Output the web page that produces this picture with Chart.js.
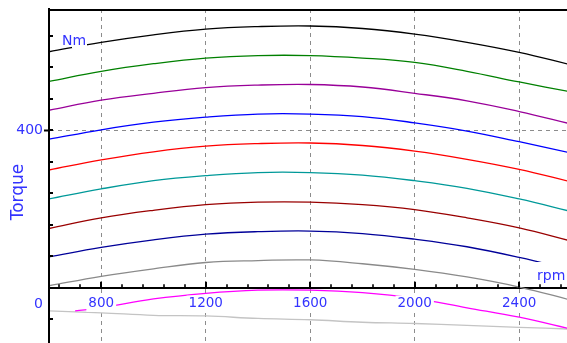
<!DOCTYPE html>
<html>
<head>
<meta charset="utf-8">
<script src="https://cdn.jsdelivr.net/npm/chart.js@4.4.1/dist/chart.umd.min.js"></script>
<style>
    html, body { margin: 0; padding: 0; background: #fff; }
</style>
</head>
<body>
<canvas id="torque-chart" width="567" height="343"></canvas>
<script>
// Engine speed points (rpm)
const rpm = [600, 800, 1000, 1200, 1400, 1600, 1800, 2000, 2200, 2400, 2600];
const lowRpm = [700, 800, 1000, 1200, 1400, 1600, 1800, 2000, 2200, 2400, 2600];

// Torque curves (Nm), top to bottom
const torqueBlack = [525, 540, 552, 561, 565, 566, 562, 553, 540, 524, 504];
const torqueGreen = [478, 494, 506, 515, 519, 519, 515, 508, 494, 477, 461];
const torquePurple = [432, 448, 459, 468, 472, 473, 469, 459, 447, 430, 410];
const torqueBlue = [386, 401, 413, 421, 426, 426, 422, 412, 399, 382, 364];
const torqueRed = [337, 353, 366, 375, 379, 380, 376, 367, 354, 338, 318];
const torqueTeal = [291, 307, 320, 328, 333, 333, 329, 320, 308, 291, 271];
const torqueMaroon = [244, 261, 273, 282, 286, 286, 282, 274, 261, 245, 224];
const torqueNavy = [199, 214, 226, 235, 239, 240, 236, 227, 215, 198, 178];
const torqueGray = [153, 168, 180, 190, 193, 194, 188, 179, 167, 151, 130];

// Curves under the rpm axis
const lowMagenta = [113, 118, 132, 141, 146, 146, 142, 133, 118, 103, 84];
const lowLightGray = [113, 110, 106, 105, 101, 99, 95, 93, 90, 87, 84];

// Axis ticks
const xTicks = [800, 1200, 1600, 2000, 2400];
const yLabelTicks = [400];
const yMarkTicks = [100, 150, 200, 250, 300, 350, 400, 450, 500, 550];

const labelBlue = "#3333ff";
const gridGray = "#8c8c8c";

const toPoints = (xs, ys) => xs.map((x, i) => ({ x: x, y: ys[i] }));

const line = (label, xs, ys, color) => ({
    label: label,
    data: toPoints(xs, ys),
    borderColor: color,
    borderWidth: 1.3,
    pointRadius: 0,
    tension: 0.4,
    fill: false,
});

// Inward tick marks, top frame line and free labels
const decor = {
    id: "decor",
    afterDatasetsDraw(c) {
        const ctx = c.ctx;
        const area = c.chartArea;
        const x = c.scales.x;
        const y = c.scales.y;
        const axisY = y.getPixelForValue(150);
        ctx.save();
        ctx.strokeStyle = "#000";
        // top frame
        ctx.lineWidth = 2;
        ctx.beginPath();
        ctx.moveTo(area.left - 1, area.top + 1);
        ctx.lineTo(area.right, area.top + 1);
        ctx.stroke();
        // y marks
        yMarkTicks.forEach((v) => {
            const py = Math.round(y.getPixelForValue(v));
            ctx.beginPath();
            ctx.moveTo(area.left, py);
            ctx.lineTo(area.left + 4, py);
            ctx.stroke();
        });
        // x major marks
        xTicks.forEach((v) => {
            const px = Math.round(x.getPixelForValue(v));
            ctx.beginPath();
            ctx.moveTo(px, axisY);
            ctx.lineTo(px, axisY - 6);
            ctx.stroke();
        });
        // x minor marks every 80 rpm
        ctx.lineWidth = 1.6;
        for (let v = 640; v < 2600; v += 80) {
            if (v % 400 === 0) continue;
            const px = Math.round(x.getPixelForValue(v));
            ctx.beginPath();
            ctx.moveTo(px, axisY);
            ctx.lineTo(px, axisY - 3.5);
            ctx.stroke();
        }
        // unit labels
        ctx.font = "14px 'DejaVu Sans'";
        ctx.fillStyle = "#fff";
        ctx.fillRect(72, 30, 15, 18.5);
        ctx.fillRect(535, 262, 40, 22);
        ctx.fillStyle = labelBlue;
        ctx.textAlign = "left";
        ctx.textBaseline = "alphabetic";
        ctx.fillText("Nm", 62, 45);
        ctx.fillText("rpm", 537, 280);
        ctx.textAlign = "right";
        ctx.fillText("0", 43, 307.5);
        // axis title
        ctx.translate(23, 192);
        ctx.rotate(-Math.PI / 2);
        ctx.textAlign = "center";
        ctx.font = "17px 'DejaVu Sans'";
        ctx.fillText("Torque", 0, 0);
        ctx.restore();
    },
};

const ctx = document.getElementById("torque-chart");
const chart = new Chart(ctx, {
    type: "line",
    data: {
        datasets: [
            line("black", rpm, torqueBlack, "#000000"),
            line("green", rpm, torqueGreen, "#008000"),
            line("purple", rpm, torquePurple, "#990099"),
            line("blue", rpm, torqueBlue, "#0000ff"),
            line("red", rpm, torqueRed, "#ff0000"),
            line("teal", rpm, torqueTeal, "#009999"),
            line("maroon", rpm, torqueMaroon, "#990000"),
            line("navy", rpm, torqueNavy, "#000099"),
            line("gray", rpm, torqueGray, "#8a8a8a"),
            line("magenta", lowRpm, lowMagenta, "#ff00ff"),
            line("lightgray", rpm, lowLightGray, "#c4c4c4"),
        ],
    },
    options: {
        responsive: false,
        animation: false,
        layout: {
            padding: { top: 9, bottom: 0, left: 0, right: 0 },
        },
        scales: {
            x: {
                type: "linear",
                min: 600,
                max: 2583,
                position: { y: 150 },
                afterBuildTicks: (s) => {
                    s.ticks = xTicks.map((v) => ({ value: v }));
                },
                ticks: {
                    callback: (v) => String(v),
                    color: labelBlue,
                    font: { family: "DejaVu Sans", size: 13.5 },
                    padding: 8,
                    z: 1,
                    maxRotation: 0,
                    autoSkip: false,
                    showLabelBackdrop: true,
                    backdropColor: "#ffffff",
                    backdropPadding: { x: 2, y: 0 },
                },
                grid: {
                    color: gridGray,
                    lineWidth: 1,
                    drawTicks: false,
                },
                border: {
                    color: "#000",
                    width: 2,
                    dash: [4, 4],
                },
            },
            y: {
                type: "linear",
                min: 62,
                max: 593,
                position: "left",
                afterBuildTicks: (s) => {
                    s.ticks = yLabelTicks.map((v) => ({ value: v }));
                },
                afterFit: (s) => {
                    s.width = 49;
                    s.paddingTop = 0;
                    s.paddingBottom = 0;
                },
                ticks: {
                    callback: (v) => String(v),
                    color: labelBlue,
                    font: { family: "DejaVu Sans", size: 14 },
                    padding: 1,
                },
                grid: {
                    color: gridGray,
                    lineWidth: 1,
                    tickColor: "#000",
                    tickLength: 5,
                    tickWidth: 2,
                    tickBorderDash: [],
                },
                border: {
                    color: "#000",
                    width: 2,
                    dash: [4, 4],
                    z: 1,
                },
            },
        },
        plugins: {
            legend: { display: false },
            tooltip: { enabled: false },
        },
    },
    plugins: [decor],
});
</script>
</body>
</html>
